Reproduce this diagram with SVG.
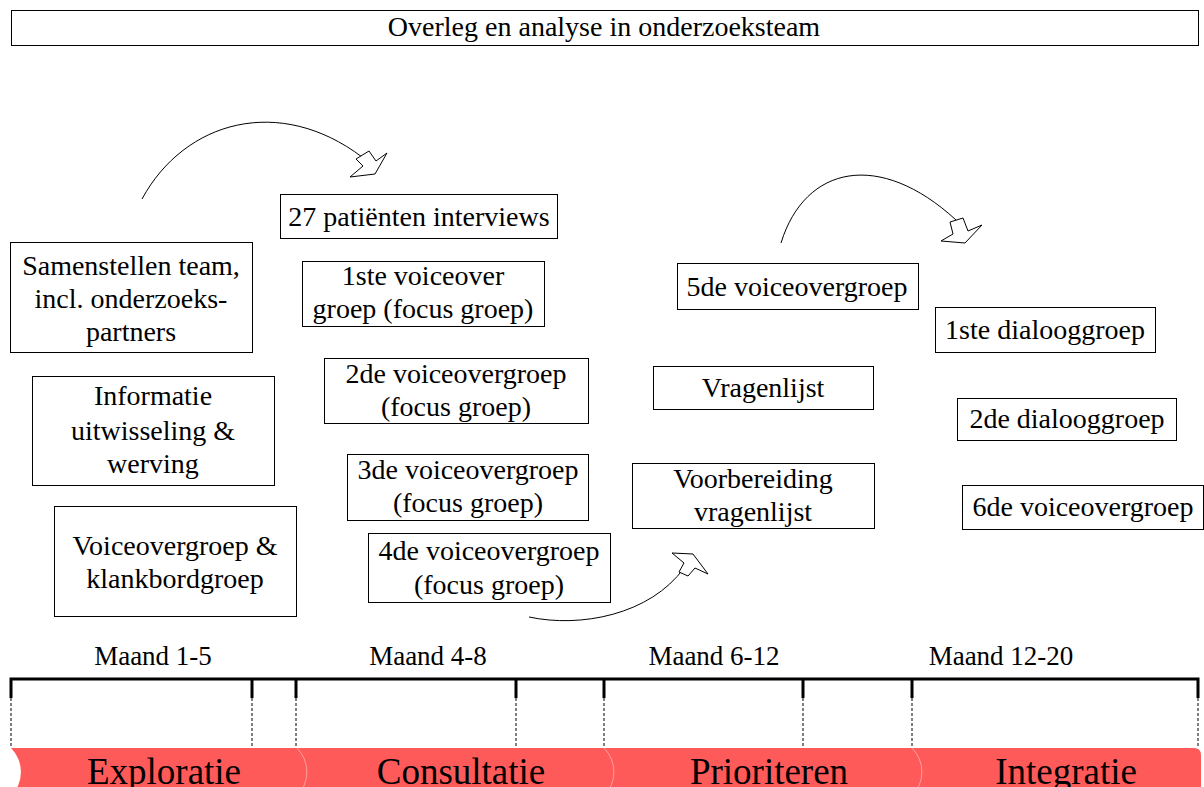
<svg xmlns="http://www.w3.org/2000/svg" width="1204" height="787" viewBox="0 0 1204 787">
<style>
.box{fill:#fff;stroke:#000;stroke-width:1}
.t{font-family:"Liberation Serif","Times New Roman",serif;font-size:28px;fill:#000;text-anchor:middle}
.m{font-family:"Liberation Serif","Times New Roman",serif;font-size:27px;fill:#000;text-anchor:middle}
.p{font-family:"Liberation Serif","Times New Roman",serif;font-size:37px;fill:#000;text-anchor:middle}
.seg{fill:#FF5A5A}
.seam{fill:none;stroke:#FF9A9A;stroke-width:1}
.tick{stroke:#000;stroke-width:3;fill:none}
.dash{stroke:#000;stroke-width:1;stroke-dasharray:3 2;fill:none}
.curve{fill:none;stroke:#000;stroke-width:1}
.head{fill:#fff;stroke:#000;stroke-width:1;stroke-linejoin:miter}
</style>
<rect width="1204" height="787" fill="#fff"/>
<g id="title">
<rect class="box" x="11.5" y="10.5" width="1187" height="35"/>
<text class="t" x="604" y="36" font-size="26">Overleg en analyse in onderzoeksteam</text>
</g>
<g id="connectors">
<path class="curve" d="M142,199 C185,120 280,95 362,157"/>
<polygon class="head" points="369,151 356,159 363,166 350,177 375,174 387,153 376,161"/>
<path class="curve" d="M781,243 C805,165 880,150 956,220"/>
<polygon class="head" points="950,222 963,218 968,231 982,225 965,243 941,241 953,234"/>
<path class="curve" d="M529,617 C580,628 650,615 684,568"/>
<polygon class="head" points="679,572 688,576 695,568 708,574 693,554 672,553 684,563"/>
</g>
<g id="n-interviews">
<rect class="box" x="280.5" y="194.5" width="277" height="44"/>
<text class="t" x="419" y="226">27 patiënten interviews</text>
</g>
<g id="n-vo1">
<rect class="box" x="302.5" y="261.5" width="242" height="65"/>
<text class="t" x="423" y="285">1ste voiceover</text>
<text class="t" x="423" y="318">groep (focus groep)</text>
</g>
<g id="n-vo2">
<rect class="box" x="324.5" y="358.5" width="264" height="65"/>
<text class="t" x="456" y="383">2de voiceovergroep</text>
<text class="t" x="456" y="416">(focus groep)</text>
</g>
<g id="n-vo3">
<rect class="box" x="347.5" y="454.5" width="241" height="66"/>
<text class="t" x="468" y="479">3de voiceovergroep</text>
<text class="t" x="468" y="512">(focus groep)</text>
</g>
<g id="n-vo4">
<rect class="box" x="368.5" y="533.5" width="242" height="69"/>
<text class="t" x="489" y="560">4de voiceovergroep</text>
<text class="t" x="489" y="594">(focus groep)</text>
</g>
<g id="n-team">
<rect class="box" x="10.5" y="242.5" width="242" height="110"/>
<text class="t" x="131" y="275">Samenstellen team,</text>
<text class="t" x="131" y="308">incl. onderzoeks-</text>
<text class="t" x="131" y="341">partners</text>
</g>
<g id="n-info">
<rect class="box" x="32.5" y="376.5" width="242" height="109"/>
<text class="t" x="153" y="405">Informatie</text>
<text class="t" x="153" y="440">uitwisseling &amp;</text>
<text class="t" x="153" y="473">werving</text>
</g>
<g id="n-klank">
<rect class="box" x="54.5" y="506.5" width="242" height="110"/>
<text class="t" x="175" y="555">Voiceovergroep &amp;</text>
<text class="t" x="175" y="588">klankbordgroep</text>
</g>
<g id="n-vo5">
<rect class="box" x="677.5" y="263.5" width="241" height="46"/>
<text class="t" x="797" y="296">5de voiceovergroep</text>
</g>
<g id="n-vragen">
<rect class="box" x="653.5" y="366.5" width="220" height="43"/>
<text class="t" x="763" y="397">Vragenlijst</text>
</g>
<g id="n-voorb">
<rect class="box" x="632.5" y="463.5" width="242" height="65"/>
<text class="t" x="753" y="488">Voorbereiding</text>
<text class="t" x="753" y="521">vragenlijst</text>
</g>
<g id="n-dia1">
<rect class="box" x="935.5" y="307.5" width="220" height="45"/>
<text class="t" x="1045" y="339">1ste dialooggroep</text>
</g>
<g id="n-dia2">
<rect class="box" x="957.5" y="398.5" width="219" height="42"/>
<text class="t" x="1067" y="428">2de dialooggroep</text>
</g>
<g id="n-vo6">
<rect class="box" x="962.5" y="485.5" width="241" height="44"/>
<text class="t" x="1083" y="516">6de voiceovergroep</text>
</g>
<g id="timeline">
<text class="m" x="153" y="665">Maand 1-5</text>
<text class="m" x="428" y="665">Maand 4-8</text>
<text class="m" x="714" y="665">Maand 6-12</text>
<text class="m" x="1001" y="665">Maand 12-20</text>
<path class="tick" d="M11,698 V679 H1198 V698 M252,679 V698 M296,679 V698 M516,679 V698 M604,679 V698 M803,679 V698 M912,679 V698"/>
<path class="dash" d="M11,698 V748 M252,698 V748 M296,698 V748 M516,698 V748 M604,698 V748 M803,698 V748 M912,698 V748 M1198,698 V748"/>
</g>
<g id="phases">
<path class="seg" d="M11,748 H297 A34,34 0 0 1 297,796 H11 A34,34 0 0 0 11,748 Z"/>
<path class="seg" d="M297,748 H604 A34,34 0 0 1 604,796 H297 A34,34 0 0 0 297,748 Z"/>
<path class="seg" d="M604,748 H912 A34,34 0 0 1 912,796 H604 A34,34 0 0 0 604,748 Z"/>
<path class="seg" d="M912,748 H1194 Q1201,748 1201,755 V796 H912 A34,34 0 0 0 912,748 Z"/>
<path class="seam" d="M297,748 A34,34 0 0 1 297,796 M604,748 A34,34 0 0 1 604,796 M912,748 A34,34 0 0 1 912,796"/>
<text class="p" x="164" y="784">Exploratie</text>
<text class="p" x="461" y="784">Consultatie</text>
<text class="p" x="769" y="784">Prioriteren</text>
<text class="p" x="1066" y="784">Integratie</text>
</g>
</svg>
